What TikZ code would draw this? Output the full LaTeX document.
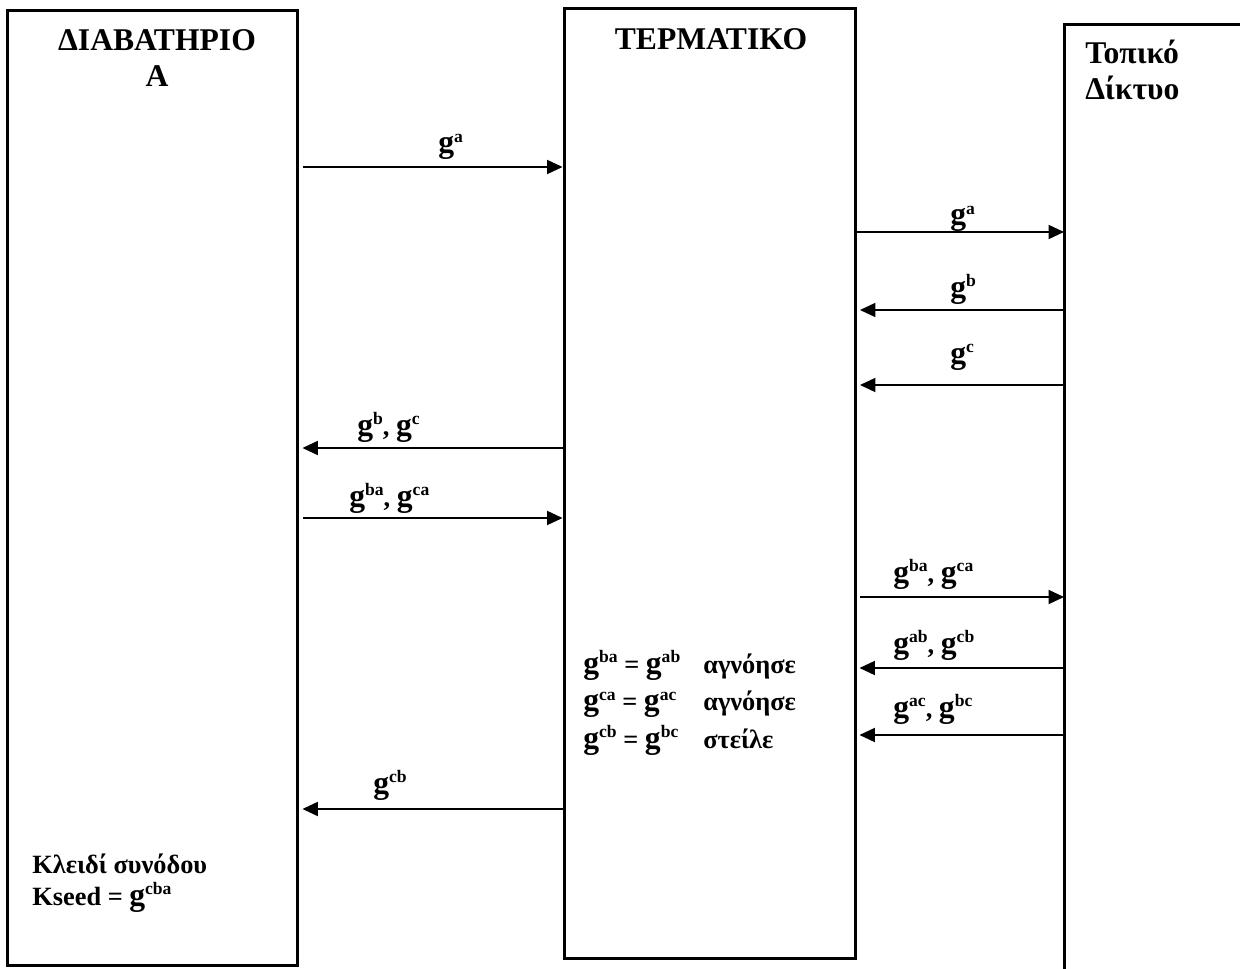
\documentclass[tikz,border=0pt]{standalone}
\usepackage{fontspec}
\setmainfont{Liberation Serif}
\usetikzlibrary{arrows.meta,positioning,calc}
\newcommand{\sps}[1]{\raisebox{6pt}{\fontsize{10}{10}\selectfont #1}}
\newcommand{\gp}[1]{{\fontsize{18}{18}\selectfont g}\sps{#1}}

\begin{document}
\begin{tikzpicture}[x=0.02cm,y=-0.02cm,
  font=\fontsize{15}{18}\selectfont\bfseries,
  box/.style={draw,line width=1.7pt,inner sep=0pt},
  ttl/.style={font=\fontsize{18}{21}\selectfont\bfseries,align=center,anchor=base,inner sep=0pt},
  lbl/.style={anchor=base west,inner sep=0pt},
  msg/.style={-{Triangle[length=3.1mm,width=2.8mm]},line width=1.1pt}]
\useasboundingbox (0,0) rectangle (1240,969);
% the three parties
\node[box,minimum width=5.81cm,minimum height=19.11cm] (gw) at (152.7,488.3) {};
\node[box,minimum width=5.84cm,minimum height=19.01cm] (term) at (710,483.25) {};
\coordinate (lan) at (1064,24.5);
\draw[line width=1.7pt] (1250,24.5) -- (lan) -- (lan |- 0,980);
\node[ttl] (gwt) at (157,87) {ΔΙΑΒΑΤΗΡΙΟ\\Α};
\node[ttl] (termt) at (711,50) {ΤΕΡΜΑΤΙΚΟ};
\node[ttl,anchor=base west,align=left] (lant) at (1085,100) {Τοπικό\\Δίκτυο};
% messages gateway <-> terminal
\draw[msg,shorten <=0.08cm] (gw.east |- 0,167) -- (term.west |- 0,167);
\node[lbl] (m1) at (438,153) {\gp{a}};
\draw[msg,shorten >=0.06cm] (term.west |- 0,448) -- (gw.east |- 0,448);
\node[lbl] (m4) at (357,435) {\gp{b}, \gp{c}};
\draw[msg,shorten <=0.08cm] (gw.east |- 0,518) -- (term.west |- 0,518);
\node[lbl] (m5) at (349,506) {\gp{ba}, \gp{ca}};
\draw[msg,shorten >=0.06cm] (term.west |- 0,809) -- (gw.east |- 0,809);
\node[lbl] (m9) at (373,793) {\gp{cb}};
% messages terminal <-> local network
\draw[msg] (term.east |- 0,232) -- (lan |- 0,232);
\node[lbl] (n1) at (950,225) {\gp{a}};
\draw[msg,shorten >=0.05cm] (lan |- 0,310) -- (term.east |- 0,310);
\node[lbl] (n2) at (950,297) {\gp{b}};
\draw[msg,shorten >=0.05cm] (lan |- 0,385) -- (term.east |- 0,385);
\node[lbl] (n3) at (950,363) {\gp{c}};
\draw[msg,shorten <=0.05cm] (term.east |- 0,597) -- (lan |- 0,597);
\node[lbl] (n4) at (893,582) {\gp{ba}, \gp{ca}};
\draw[msg,shorten >=0.04cm] (lan |- 0,668) -- (term.east |- 0,668);
\node[lbl] (n5) at (893,653) {\gp{ab}, \gp{cb}};
\draw[msg,shorten >=0.04cm] (lan |- 0,735) -- (term.east |- 0,735);
\node[lbl] (n6) at (893,717) {\gp{ac}, \gp{bc}};
% checks and key
\node[lbl,align=left,font=\fontsize{15}{21.3}\selectfont\bfseries] (chk) at (583,748)
  {\makebox[2.4cm][l]{\gp{ba} = \gp{ab}}αγνόησε\\
   \makebox[2.4cm][l]{\gp{ca} = \gp{ac}}αγνόησε\\
   \makebox[2.4cm][l]{\gp{cb} = \gp{bc}}στείλε};
\node[lbl,align=left,font=\fontsize{15}{18}\selectfont\bfseries] (key) at (32,905)
  {Κλειδί συνόδου\\Kseed = \gp{cba}};
\end{tikzpicture}
\end{document}
